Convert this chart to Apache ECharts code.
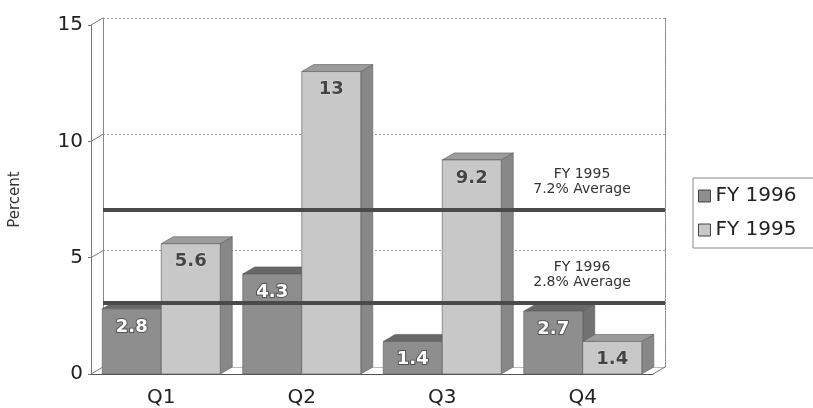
<!DOCTYPE html>
<html>
<head>
<meta charset="utf-8">
<script src="https://cdn.jsdelivr.net/npm/echarts@6/dist/echarts.min.js"></script>
<style>
  html, body { margin: 0; padding: 0; background: #fff; }
  #chart { width: 813px; height: 408px; }
</style>
</head>
<body>
<div id="chart"></div>
<script>
var quarters = ['Q1', 'Q2', 'Q3', 'Q4'];
var fy1996 = [2.8, 4.3, 1.4, 2.7];
var fy1995 = [5.6, 13, 9.2, 1.4];
var yTicks = [0, 5, 10, 15];
// the two thick average bars, where they sit on the back wall
var averageLines = [6.75, 2.75];

var FONT = 'DejaVu Sans';
var DX = 12, DY = 7; // depth of the 3d look

// one box: front face, top face, right side
function barRenderer(slot, faces, labelStyle) {
  return function (params, api) {
    var cat = api.value(0);
    var val = api.value(1);
    var base = api.coord([cat, 0]);
    var top = api.coord([cat, val]);
    var band = api.size([1, 0])[0];
    var w = band * 0.42;
    var x0 = base[0] - w + slot * w;
    var x1 = x0 + w;
    var ty = top[1], by = base[1];
    var edge = { stroke: '#5a5a5a', lineWidth: 0.6 };
    return {
      type: 'group',
      children: [{
        type: 'polygon',
        shape: { points: [[x1, ty], [x1 + DX, ty - DY], [x1 + DX, by - DY], [x1, by]] },
        style: Object.assign({ fill: faces.side }, edge)
      }, {
        type: 'polygon',
        shape: { points: [[x0, ty], [x0 + DX, ty - DY], [x1 + DX, ty - DY], [x1, ty]] },
        style: Object.assign({ fill: faces.top }, edge)
      }, {
        type: 'rect',
        shape: { x: x0, y: ty, width: w, height: by - ty },
        style: Object.assign({ fill: faces.front }, edge)
      }, {
        type: 'text',
        style: Object.assign({
          text: String(val),
          x: x0 + w / 2,
          y: ty + 9,
          align: 'center',
          verticalAlign: 'top',
          font: 'bold 18px "' + FONT + '"'
        }, labelStyle)
      }]
    };
  };
}

// slanted ticks tying the front axis to the back wall, plus floor corner
function frameRenderer(params, api) {
  var band = api.size([1, 0])[0];
  var children = [];
  yTicks.forEach(function (v) {
    var p = api.coord([0, v]);
    var x = p[0] - band / 2;
    children.push({
      type: 'line',
      shape: { x1: x, y1: p[1], x2: x + DX, y2: p[1] - DY },
      style: { stroke: '#777', lineWidth: 1 }
    });
  });
  var r = api.coord([quarters.length - 1, 0]);
  var xr = r[0] + band / 2;
  children.push({
    type: 'line',
    shape: { x1: xr, y1: r[1], x2: xr + DX, y2: r[1] - DY },
    style: { stroke: '#777', lineWidth: 1 }
  });
  return { type: 'group', children: children };
}

function note(text, y) {
  return {
    type: 'text',
    x: 582,
    y: y,
    style: {
      text: text,
      align: 'center',
      verticalAlign: 'top',
      font: '14px "' + FONT + '"',
      lineHeight: 15,
      fill: '#333'
    }
  };
}

var chart = echarts.init(document.getElementById('chart'));

var option = {
  backgroundColor: '#fff',
  animation: false,
  grid: [
    { left: 91, right: 160, top: 25, bottom: 34 },
    { left: 103, right: 148, top: 18, bottom: 41 }
  ],
  xAxis: [{
    type: 'category',
    data: quarters,
    gridIndex: 0,
    axisLine: { lineStyle: { color: '#555', width: 1 } },
    axisTick: { show: false },
    axisLabel: { fontFamily: FONT, fontSize: 20, color: '#222', margin: 14 }
  }, {
    type: 'category',
    data: quarters,
    gridIndex: 1,
    axisLine: { lineStyle: { color: '#bbb', width: 1 } },
    axisTick: { show: false },
    axisLabel: { show: false }
  }],
  yAxis: [{
    type: 'value',
    gridIndex: 0,
    min: 0,
    max: 15,
    interval: 5,
    name: 'Percent',
    nameLocation: 'middle',
    nameRotate: 90,
    nameGap: 68,
    nameTextStyle: { fontFamily: FONT, fontSize: 15, color: '#333' },
    axisLine: { show: true, lineStyle: { color: '#777', width: 1 } },
    axisTick: { show: true, length: 3, lineStyle: { color: '#777' } },
    splitLine: { show: false },
    axisLabel: { fontFamily: FONT, fontSize: 20, color: '#222', margin: 8 }
  }, {
    type: 'value',
    gridIndex: 1,
    min: 0,
    max: 15,
    interval: 5,
    axisLine: { show: true, lineStyle: { color: '#888', width: 1 } },
    axisTick: { show: false },
    axisLabel: { show: false },
    splitLine: { show: true, lineStyle: { color: '#999', type: [2, 2], width: 1 } }
  }, {
    type: 'value',
    gridIndex: 1,
    position: 'right',
    min: 0,
    max: 15,
    interval: 5,
    axisLine: { show: true, lineStyle: { color: '#888', width: 1, type: [2, 1] } },
    axisTick: { show: false },
    axisLabel: { show: false },
    splitLine: { show: false }
  }],
  legend: {
    orient: 'vertical',
    left: 693,
    top: 178,
    padding: [8, 20, 8, 5],
    borderColor: '#888',
    borderWidth: 1,
    itemWidth: 12,
    itemHeight: 12,
    itemGap: 14,
    icon: 'rect',
    itemStyle: { borderColor: '#444', borderWidth: 1 },
    textStyle: { fontFamily: FONT, fontSize: 20, color: '#222' },
    data: ['FY 1996', 'FY 1995']
  },
  graphic: [
    note('FY 1995\n7.2% Average', 167),
    note('FY 1996\n2.8% Average', 260)
  ],
  series: [{
    type: 'line',
    xAxisIndex: 1,
    yAxisIndex: 1,
    data: [],
    z: 1,
    markLine: {
      silent: true,
      symbol: 'none',
      label: { show: false },
      lineStyle: { color: '#4a4a4a', width: 4, type: 'solid' },
      data: averageLines.map(function (v) { return { yAxis: v }; })
    }
  }, {
    type: 'custom',
    xAxisIndex: 0,
    yAxisIndex: 0,
    z: 2,
    silent: true,
    renderItem: frameRenderer,
    data: [[0, 0]]
  }, {
    name: 'FY 1996',
    type: 'custom',
    xAxisIndex: 0,
    yAxisIndex: 0,
    z: 3,
    itemStyle: { color: '#8e8e8e' },
    renderItem: barRenderer(0, { front: '#8e8e8e', top: '#686868', side: '#727272' },
      { fill: '#fff', stroke: '#555', lineWidth: 2 }),
    encode: { x: 0, y: 1 },
    data: fy1996.map(function (v, i) { return [i, v]; })
  }, {
    name: 'FY 1995',
    type: 'custom',
    xAxisIndex: 0,
    yAxisIndex: 0,
    z: 4,
    itemStyle: { color: '#c8c8c8' },
    renderItem: barRenderer(1, { front: '#c8c8c8', top: '#9c9c9c', side: '#888888' },
      { fill: '#444', stroke: '#ddd', lineWidth: 1 }),
    encode: { x: 0, y: 1 },
    data: fy1995.map(function (v, i) { return [i, v]; })
  }]
};

chart.setOption(option);
</script>
</body>
</html>
